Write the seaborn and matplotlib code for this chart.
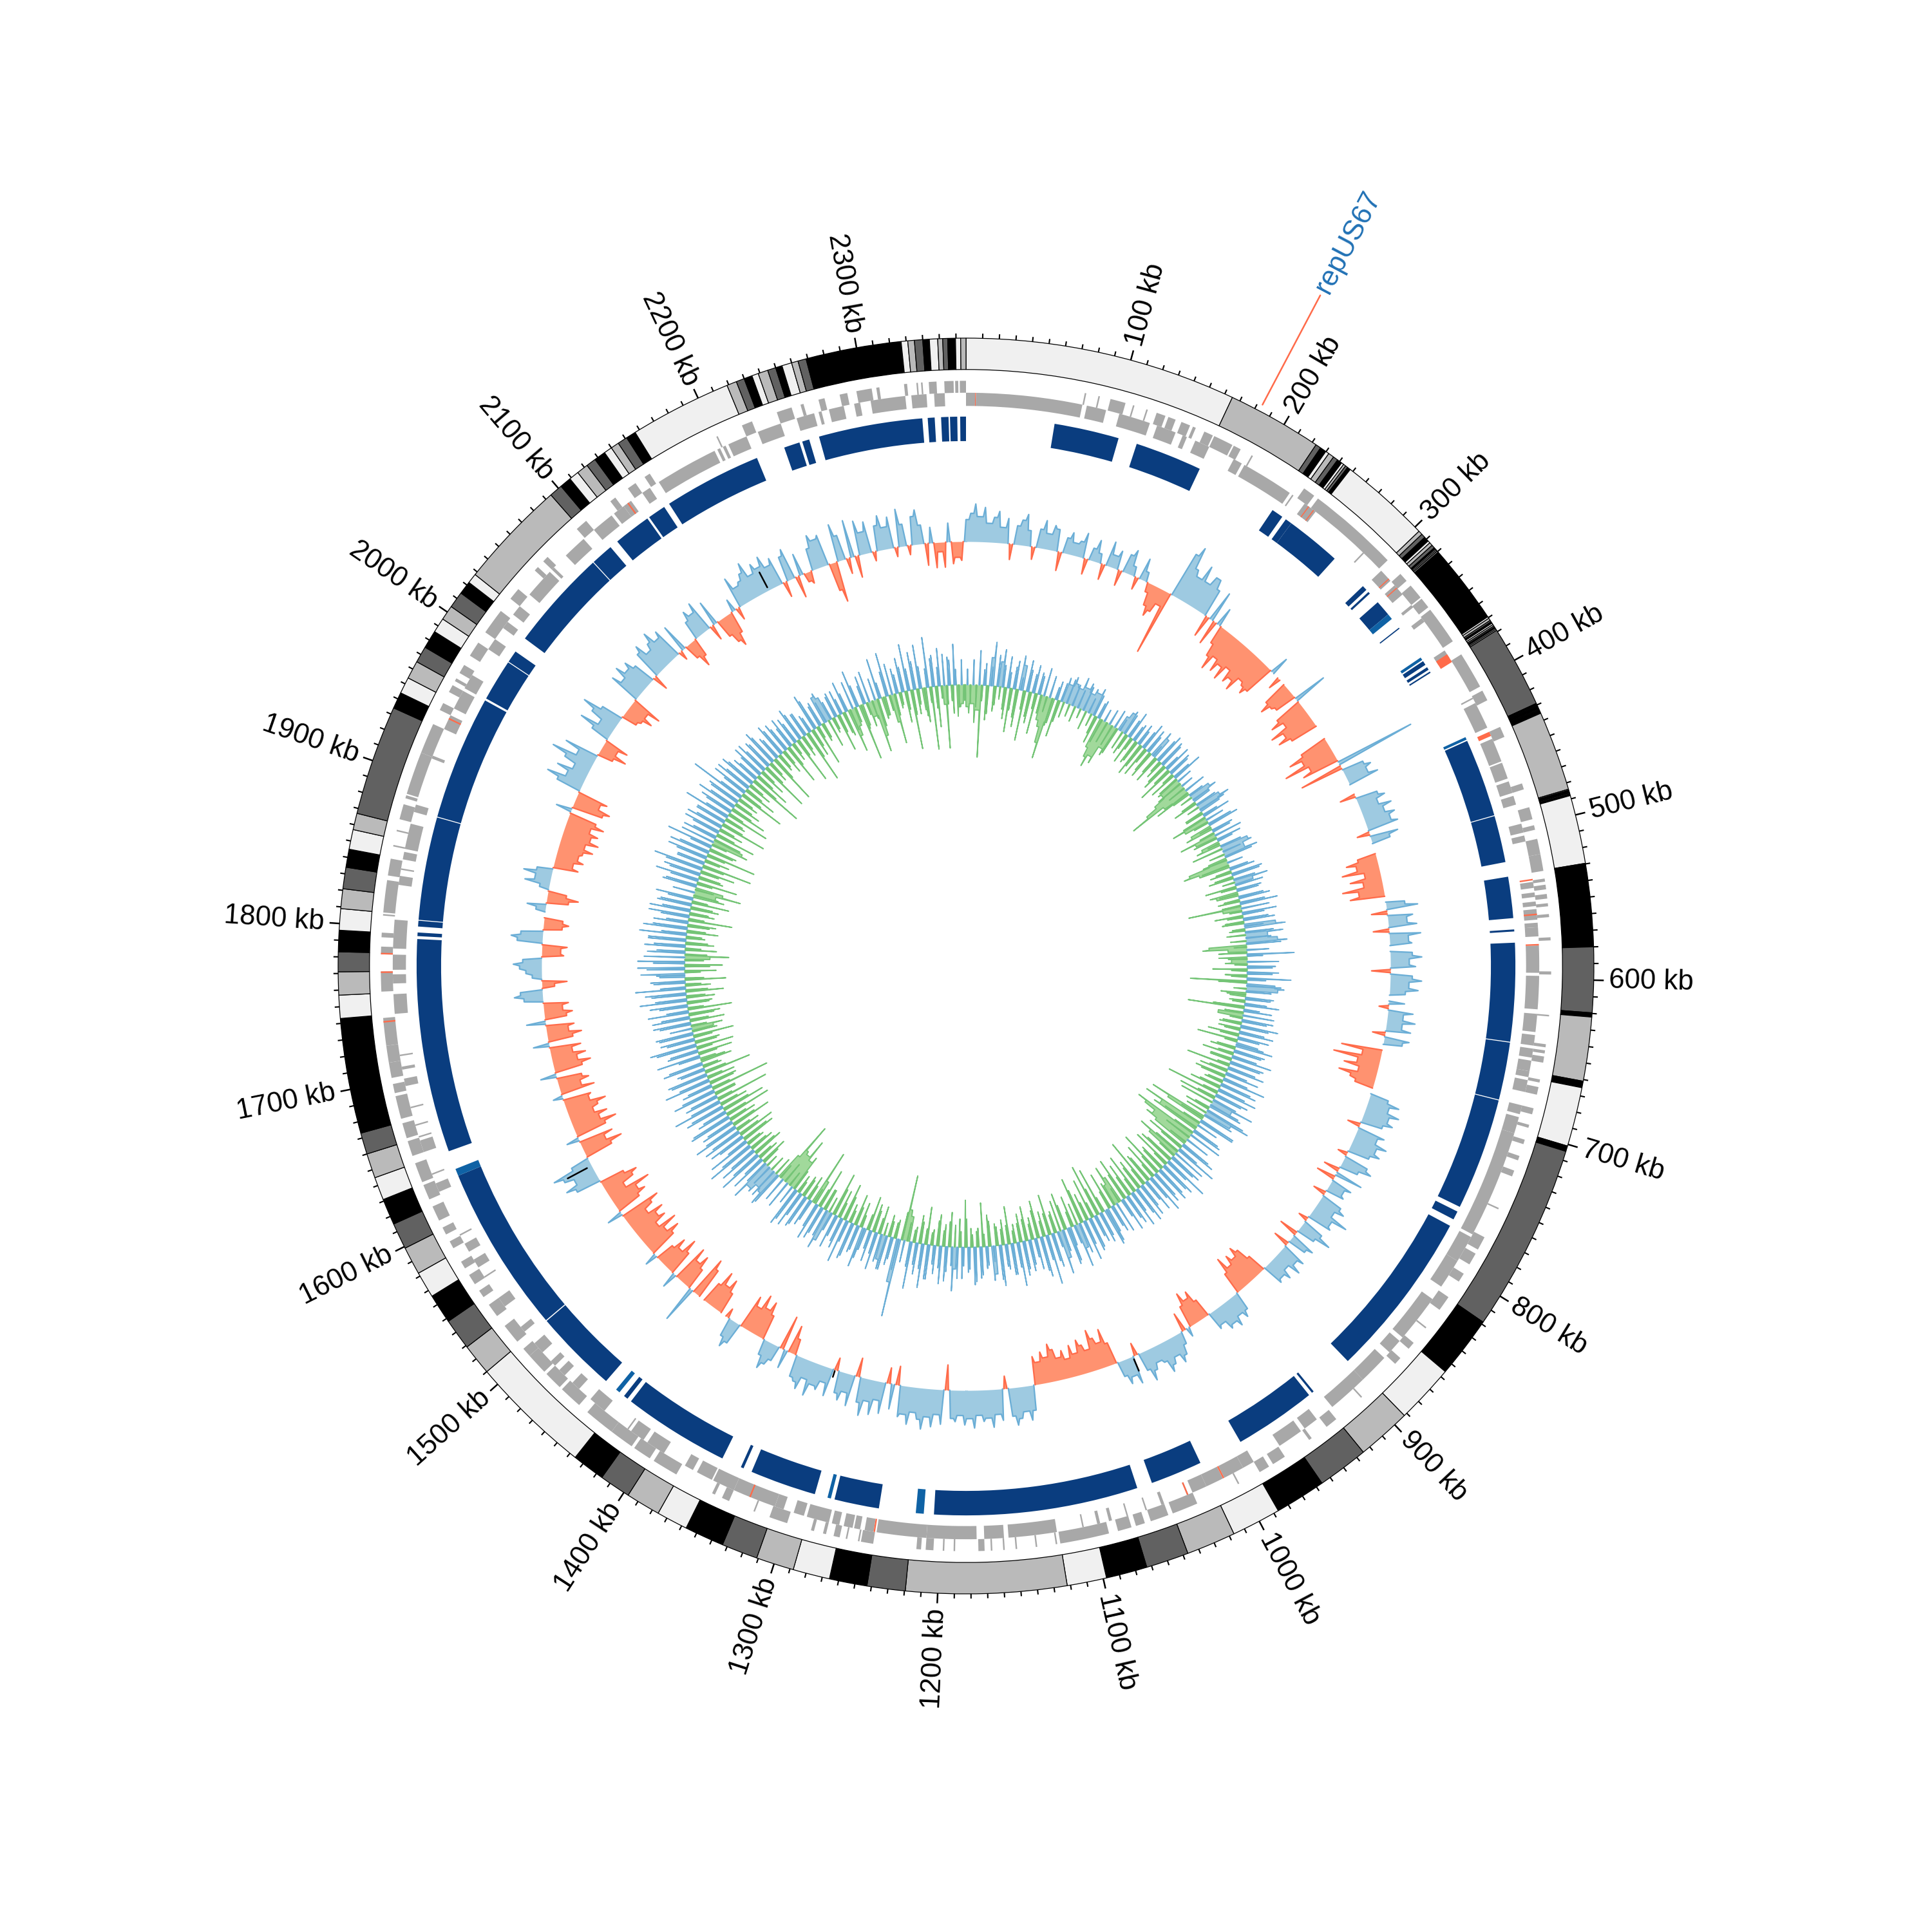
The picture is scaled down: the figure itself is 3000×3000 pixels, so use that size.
import numpy as np
import pandas as pd
import seaborn as sns
import matplotlib.pyplot as plt

genome_kb = 2366

# contig ends (kb), shades run through contig_shades in order
contig_ends = [165, 222.7, 226, 229.8, 232, 235.5, 238.5, 241.5, 243, 244.5, 246, 248, 303.5,
    306, 308.5, 311.5, 313, 315, 317, 318, 318.7, 319.5, 320.6, 369.4,
    370.5, 372, 373, 374, 375, 376, 376.8, 377.6, 378.3, 379.1, 429,
    430, 430.5, 431, 431.5, 432.5, 433, 433.5, 434, 435, 435.5, 484,
    484.7, 485.7, 486, 486.4, 487, 488, 529.6, 530, 530.4, 579.6, 579.8, 580, 619.6, 622,
    622.2, 661, 661.5, 665, 701, 701.5, 702, 704, 704.2, 704.4, 818.6, 856, 892, 925, 956, 987,
    1017, 1047, 1073, 1098, 1122, 1219.5, 1242.7, 1265.6, 1288, 1311, 1333, 1357, 1376, 1397,
    1416, 1436, 1510, 1529, 1548, 1566, 1582, 1599, 1615, 1631, 1645, 1660, 1673, 1743, 1757,
    1771, 1783, 1796, 1809, 1821, 1834, 1845, 1857, 1867, 1934, 1944, 1954, 1965, 1975, 1986,
    1995, 2004, 2014, 2022, 2028, 2094, 2102, 2109, 2115, 2122, 2128, 2135, 2140, 2145, 2151,
    2157, 2219, 2225, 2230, 2235, 2239, 2245, 2250, 2254, 2260, 2264, 2269, 2327, 2331, 2335,
    2340, 2344, 2349, 2352, 2355, 2359.7, 2362.8, 2366]
contig_shades = ["#F0F0F0", "#BABABA", "#616161", "#000000"]

# aligned blocks, (start, end) in kb
blocks_dark = [(61, 106), (119, 165.5), (222.9, 231), (234, 238.6), (238.6, 277), (304, 307.5), (309.5, 311),
    (319, 330), (341.7, 342.5), (370, 373), (375, 377), (378.5, 379.5), (432.5, 486.8), (487.4, 519.8),
    (530, 558.6), (566.4, 567.8), (575.5, 643.6), (644.2, 684), (684.6, 762.4), (766, 772), (777, 893.7),
    (925, 926.5), (929, 986), (1017, 1053), (1063.6, 1205), (1243, 1274), (1288, 1334), (1340, 1342),
    (1356, 1430), (1433, 1436), (1452, 1510), (1510.7, 1627), (1645, 1793), (1795, 1797.5), (1801.6, 1805.6),
    (1806.2, 1877.6), (1878.2, 1964.5), (1966, 1995), (1995.6, 2004), (2015, 2085), (2085.6, 2101),
    (2107, 2133), (2134.5, 2147), (2151, 2219), (2239, 2250), (2252, 2257), (2264, 2336), (2339.7, 2344.5),
    (2348.9, 2354), (2355, 2360), (2362, 2366)]
blocks_light = [(330, 334), (367, 369), (429.7, 431.6), (1212, 1217.5), (1276.6, 1279), (1440, 1443), (1627, 1632)]

gene_outer = [(77, 78), (86, 87), (94, 104), (109, 110), (118, 119), (125, 131), (133, 138), (142, 148), (150, 152),
    (158, 164), (165, 178), (179, 184), (192, 193), (232, 240), (243, 303), (315, 321), (325, 335), (336, 343),
    (345, 370), (380, 404), (407, 414), (433, 440), (472, 476), (488, 496), (500, 503), (509, 519), (519, 530),
    (535, 537), (539, 542), (545, 548), (551, 553), (558, 560), (573, 575), (595, 597), (623, 624), (642, 644),
    (646, 648), (650, 654), (665, 667), (670, 675), (684, 688), (695, 697), (705, 708), (716, 719), (726, 730),
    (752, 753), (773, 782), (785, 793), (800, 806), (818, 828), (842, 843), (855, 860), (868, 873), (903, 904),
    (925, 933), (945, 947), (966, 975), (978, 985), (1000, 1001), (1030, 1047), (1050, 1062), (1066, 1072),
    (1075, 1084), (1090, 1122), (1124, 1125), (1137, 1138), (1150, 1151), (1158, 1159), (1166, 1167), (1171, 1175),
    (1190, 1191), (1197, 1198), (1204, 1209), (1212, 1215), (1243, 1251), (1252, 1253), (1260, 1261), (1265, 1269),
    (1274, 1276), (1282, 1284), (1300, 1312), (1322, 1323), (1340, 1345), (1350, 1352), (1378, 1395), (1398, 1410),
    (1412, 1428), (1428, 1448), (1455, 1470), (1472, 1484), (1486, 1500), (1500, 1506), (1512, 1525), (1533, 1542),
    (1548, 1553), (1558, 1565), (1570, 1575), (1585, 1590), (1595, 1600), (1605, 1615), (1620, 1630), (1632, 1645),
    (1650, 1660), (1662, 1672), (1675, 1690), (1692, 1698), (1702, 1712), (1712, 1723), (1723, 1741), (1758, 1771),
    (1782, 1787), (1793, 1796), (1807, 1808), (1809, 1830), (1833, 1844), (1852, 1853), (1862, 1863), (1870, 1880),
    (1884, 1886), (1887, 1915), (1915, 1935), (1945, 1950), (1958, 1963), (1966, 1968), (1972, 1978), (1985, 1995),
    (2003, 2020), (2030, 2038), (2054, 2057), (2062, 2066), (2092, 2100), (2120, 2124), (2134, 2140), (2147, 2151),
    (2200, 2201), (2218, 2225), (2242, 2252), (2258, 2260), (2270, 2274), (2284, 2289), (2295, 2305), (2308, 2310),
    (2326, 2328), (2334, 2335), (2337, 2338), (2342, 2347), (2352, 2358), (2359, 2361), (2362, 2366)]
gene_inner = [(0, 6), (6.5, 77), (80, 93), (102, 123), (128, 141), (146, 149), (155, 165), (183, 189), (191, 226),
    (228, 229), (238, 247), (288, 289), (305, 314), (318, 326), (335, 337), (346, 349), (372, 378), (408, 409),
    (412, 430), (438, 454), (455, 466), (468, 476), (478, 484), (497, 503), (505, 509), (536, 540), (543, 546),
    (549, 552), (554, 561), (563, 566), (566, 572), (578, 596), (598, 620), (623, 635), (637, 644), (646, 652),
    (654, 661), (661, 665), (667, 675), (684, 690), (692, 703), (703, 775), (777, 795), (795, 815), (825, 857),
    (860, 870), (875, 895), (895, 922), (935, 945), (948, 965), (985, 993), (993, 1007), (1008, 1020), (1020, 1030),
    (1033, 1034), (1050, 1052), (1062, 1063), (1075, 1076), (1086, 1088), (1094, 1096), (1105, 1106), (1123, 1155),
    (1158, 1171), (1176, 1209), (1209, 1242), (1244, 1250), (1253, 1257), (1258, 1264), (1267, 1272), (1274, 1289),
    (1291, 1298), (1305, 1311), (1311, 1340), (1340, 1355), (1356, 1367), (1370, 1376), (1392, 1405), (1408, 1418),
    (1420, 1421), (1440, 1452), (1462, 1468), (1475, 1480), (1484, 1488), (1496, 1504), (1514, 1518), (1535, 1542),
    (1558, 1559), (1566, 1572), (1578, 1584), (1590, 1591), (1622, 1628), (1634, 1635), (1650, 1658), (1660, 1661),
    (1668, 1669), (1680, 1681), (1695, 1700), (1706, 1708), (1715, 1716), (1743, 1756), (1763, 1769), (1772, 1782),
    (1786, 1805), (1828, 1834), (1838, 1839), (1845, 1850), (1852, 1869), (1877, 1882), (1914, 1916), (1935, 1945),
    (1950, 1963), (1965, 1975), (1995, 2003), (2012, 2017), (2023, 2030), (2040, 2060), (2062, 2064), (2075, 2091),
    (2100, 2115), (2117, 2125), (2125, 2131), (2140, 2146), (2153, 2195), (2197, 2199), (2201, 2203), (2205, 2218),
    (2226, 2242), (2253, 2265), (2268, 2270), (2275, 2285), (2292, 2296), (2303, 2326), (2330, 2340), (2345, 2352)]
mark_inner = [(6, 6.5), (241, 241.7), (245, 245.7), (312, 312.7), (320, 320.7), (375, 381), (433, 436), (534, 535),
    (557, 558), (577, 578), (1007, 1008), (1033, 1034), (1243, 1244), (1328, 1329), (1942, 1943), (2128, 2129)]
mark_outer = [(1738, 1739), (1770, 1771), (1782, 1783)]

# GC content per 100 kb, offset from the mean in half percent of the outer radius
gc_rows = [
    [7, 9, 12, 8, 11, 6, 8, 10, 5, 8, -5, 6, 8, 10, 5, -4, 6, 9, 5, 8, 7, -6, 5, 7, 4],
    [5, 8, -5, 4, 7, 3, -5, 8, 4, 6, -5, 6, 8, 3, -4, 7, 3, -3, -7, -10, -8, -5, -21, 15, 18],
    [11, 9, 14, 9, 12, 12, 9, -7, 10, -8, 6, -6, -10, -14, -9, -13, -10, -14, -9, -13, -11, -14, -9, -10, -12],
    [-10, 6, 0, -4, 0, -8, -11, -8, -7, 11, -9, -12, -8, -14, -10, -13, -9, 0, 0, 0, -9, -14, -10, -17, -9],
    [-12, 26, -14, 7, 9, 7, 10, 0, 0, -5, 7, 9, 6, 10, 7, 10, 8, 10, -4, 9, 6, 0, 0, -6, -10],
    [-7, -12, -5, -10, -6, -13, -8, -11, 0, 6, 10, -5, 8, 6, 9, -5, 10, 6, 7, 0, 7, 10, 6, 8, -6],
    [7, 10, 6, 9, 5, 0, 5, -3, 8, 5, 9, 5, 8, -4, 8, 6, 0, -13, -6, -15, -7, -11, -6, -12, -8],
    [-6, 0, 6, 10, 7, 11, 8, 10, 7, -4, 9, 7, 11, 8, 10, 7, -3, 8, 10, 6, -5, 9, -6, 7, 5],
    [6, -4, 7, 9, 6, 12, 7, 8, -3, 7, 11, 6, -6, 8, 6, -5, 8, 6, 9, 5, 8, 6, 7, -6, -10],
    [-12, -9, -11, -8, -12, -7, 6, 8, 6, 9, 7, 8, 5, 6, -6, -10, -8, -11, -7, 3, -6, 4, 7, 9, 6],
    [8, 10, 6, 5, 7, 10, 6, -4, 9, 6, 8, 5, -7, -12, -8, -10, -13, -7, -9, -11, -7, -10, -6, -9, -7],
    [-10, -12, -8, -10, -7, -9, 8, 11, 8, 10, 12, 9, -4, 10, 8, 12, 9, 10, 8, 12, 9, 11, 8, 10, 9],
    [-8, 11, 8, 12, 9, 13, 10, 8, 12, 9, 10, -6, 8, -5, 10, 6, 11, 7, 12, 8, -6, 10, 6, 9, 7],
    [-4, 9, 5, 8, 7, 11, 6, 10, 8, 7, -5, -9, 6, -11, 5, 7, 9, 5, -8, -12, -9, -13, -8, -11, 7],
    [9, 6, -3, 0, -7, -11, -8, -12, -7, 0, -10, -13, 12, -7, -11, -8, -12, 5, -8, -12, -7, -10, -6, 4, -9],
    [-12, -8, -13, -7, -11, -9, -12, -7, -10, -13, 5, -8, -11, -9, -14, -6, -10, -12, -8, 8, 11, 7, 10, 13, 6],
    [-9, -13, -8, -11, 4, -10, -14, -9, -12, -8, -10, -13, -8, -9, 3, -11, -7, -10, -8, 5, -9, -12, -8, -11, -7],
    [-10, 5, -8, -11, -7, -9, 6, -7, -9, -6, -8, 6, 9, 7, -4, -8, 3, 5, 7, 9, 6, -7, -6, -8, 8],
    [10, 7, -6, -8, -6, 0, 3, 6, -7, -10, -6, 3, 8, 5, 9, 5, -8, -6, -9, -7, -8, -11, -8, -12, -9],
    [-11, -8, -12, -9, 5, -10, -12, -8, -10, 8, 12, 6, 10, 5, 9, 14, 6, 11, -5, -9, -5, -8, 6, 11, 5],
    [9, 13, 7, -5, -6, -9, -6, -10, 10, 7, 11, 8, 10, 7, -5, 9, 11, 7, 9, 12, 8, 10, -3, 9, -5],
    [-9, -6, 6, 9, 7, 10, -5, 8, -6, -9, -11, -7, 4, -4, 10, 6, 7, 9, 12, 7, 10, 8, 11, 7, 9],
    [-5, 8, 10, -7, 7, -3, -4, 7, 11, 9, 10, -9, -13, 12, 8, -5, 12, -7, 11, 7, 10, -3, 8, 11, 7],
    [10, -3, 12, 7, -3, 9, 11, 6, -7, 5, -8, -3, -8, 6, -7, -5, -6],
]

# GC skew per 100 kb, same units
skew_rows = [
    [-7, -9, -6, -12, -8, -23, 5, -11, 9, 14, -6, 8, 12, -7, 10, -14, 7, -9, 11, 8, -16, 7, -10, 9, -13],
    [6, -8, -10, -15, -20, -8, 6, -7, 8, 6, 9, 7, 6, 10, 7, 9, 6, 8, 7, 9, -6, 5, -10, -13, -16],
    [-12, -14, -8, -10, 5, 7, 8, -7, 6, -9, 5, -8, 7, -11, 6, -10, 8, -7, 9, 7, -9, 10, -6, 8, -9],
    [9, -12, 7, -9, 10, -8, -7, -11, -15, -21, -9, -6, 7, 9, 6, -8, 8, 11, 7, -6, 9, -12, -8, 8, -7],
    [-9, 6, -12, -7, 8, -6, -8, 9, 10, 7, 11, -6, -13, -15, -10, 8, -7, 9, -8, 11, 6, -10, 8, -9, -7],
    [10, -7, 12, -17, -6, 11, -9, 8, -6, 10, 13, -5, 12, 7, 10, 13, -12, -14, -6, 15, -9, -5, -7, 9, -11],
    [10, -7, 14, -18, 9, 12, 10, -8, -5, 8, -4, 11, -18, 9, -8, -8, 10, -6, 12, -7, 8, -10, 10, -13, 7],
    [12, -8, 9, -10, 13, -7, 10, -14, 12, -9, 11, -8, 14, -6, 12, -10, 13, -17, 9, -12, 14, 7, 11, -8, 15],
    [9, -19, -13, 12, -20, -14, -16, 10, -21, -18, -14, -16, -12, 12, -8, 14, -15, -11, 11, -10, 15, -13, 12, -9, 10],
    [-15, 9, -12, 13, -9, 11, -16, 8, -10, 12, -13, 7, -11, 10, -14, 11, -9, -13, -7, 9, -12, 8, 12, -15, 10],
    [-17, 7, -13, 11, -9, 13, -15, 8, 14, -10, 6, 12, -12, 9, 14, -7, 11, -13, 16, -8, 13, -12, 10, -7, 8],
    [-11, 9, -9, 14, -6, 10, -12, 8, -8, 13, -6, 9, 11, -10, 7, -14, 10, -5, 12, -6, 8, -15, 10, -9, 7],
    [14, -11, 8, -7, 12, -10, 9, -5, 11, -12, 14, -7, 10, -5, 15, -8, -10, -21, 25, 14, -5, 9, -7, 11, 8],
    [-9, 12, -7, 10, -11, 7, 13, -8, 9, -10, 12, -6, 14, -12, 8, -9, 11, -14, 10, 13, -7, 9, -13, 12, -8],
    [-18, 9, -8, 11, -7, 12, -6, 13, -12, -10, -17, -11, -12, -21, -9, 12, 8, 7, 10, 9, 14, -6, 12, -7, 15],
    [-10, 13, -8, 16, -6, 14, -11, 9, -12, 13, -8, 15, -13, 11, -9, 14, -15, 10, -14, 13, -9, 16, -17, 11, -7],
    [14, -19, 10, -8, 15, -9, 12, -15, 8, -6, 13, -10, -5, 14, -11, 9, -12, 15, -8, 11, -13, 12, -7, -10, 10],
    [-11, 12, -8, 13, -14, 9, -7, 15, -9, 11, -12, 16, -8, 10, -13, 8, 14, -10, 15, -12, 15, -8, -14, 12, -10],
    [13, -9, 12, -6, 15, -10, 14, -7, 11, -14, 9, -8, 13, -9, 11, -12, 8, -10, -7, -15, -9, 10, -13, 14, -7],
    [12, -11, 16, -16, 9, -8, 13, -16, 10, -9, 15, -12, -10, 11, -13, 9, -8, 12, -15, 10, -7, 15, -14, 9, -12],
    [13, -9, 10, -7, 18, -15, 8, -11, 12, -8, 12, -18, 9, -12, 8, -9, 11, -16, 10, -7, 12, -16, 8, -6, 11],
    [-8, 10, -13, 7, -6, 9, -15, 11, -7, 8, -17, 6, -9, 12, -13, 7, -6, 9, 10, 8, -5, 7, -12, 8, -7],
    [10, -14, -9, -6, 12, -18, -7, 9, -8, -5, -17, -12, 13, -7, -6, 14, -9, -16, 8, -5, 11, -10, 15, -19, 12],
    [-8, 14, -7, -11, 16, -20, 10, -13, 12, -6, -20, 9, -5, 13, -10, -7, -6],
]

# skew windows that fall between the ones above
skew_between_rows = [
    [5, -6, 8, -7, 11, -5, 7, -9, 6, -8, 10, -4, 7, -10, 5, -7, 9, -12, 4, -6, 10, -8, 6, -5, 7],
    [-6, 9, -5, 7, -9, 4, -12, 6, -5, 8, -4, 7, -5, 6, -3, 8, -6, 5, -4, 7, -9, 6, -8, 4, -7],
    [5, -7, 6, -9, 4, -6, 7, -5, 9, -4, 6, -7, 5, -8, 9, -5, 6, -9, 4, -6, 8, -4, 9, -7, 5],
    [-6, 8, -4, 6, -7, 5, -9, 4, -6, 7, -12, 5, -4, 6, -5, 7, -4, 9, -6, 5, -8, 6, -5, 10, -4],
    [7, -5, 9, -8, 5, -4, 7, -10, 6, -5, 9, -8, 5, -9, 6, -5, 10, -6, 7, -4, 9, -5, 7, -6, 8],
    [-5, 8, -6, 9, -4, 7, -5, 10, -7, 6, -4, 9, -6, 8, -5, 11, -4, 7, -9, 5, -6, 10, -4, 8, -5],
    [8, -5, 6, -9, 11, -4, 8, -6, 9, -5, 7, -10, 5, -6, 10, -4, 8, -7, 9, -5, 11, -6, 7, -4, 9],
    [-6, 10, -5, 8, -7, 11, -4, 9, -6, 7, -10, 8, -5, 10, -7, 9, -5, 11, -6, 8, -11, 10, -5, 13, -7],
    [10, -8, 12, -6, 7, -12, 9, -7, 11, -9, 8, -6, 10, -13, 7, -9, 11, -6, 9, -12, 8, -5, 10, -8, 12],
    [-7, 11, -5, 8, -10, 7, -6, 11, -8, 9, -5, 12, -7, 8, -9, 6, -5, 10, -8, 7, -6, 11, -5, 8, -9],
    [9, -5, 10, -6, 8, -11, 10, -7, 6, -5, 11, -8, 7, -10, 5, -6, 9, -7, 8, -5, 11, -9, 6, -5, 10],
    [-7, 11, -6, 8, -4, 10, -6, 7, -5, 11, -7, 5, -8, 6, -4, 9, -6, 11, -4, 7, -9, 6, -5, 10, -7],
    [6, -8, 11, -5, 7, -8, 6, -4, 11, -5, 8, -9, 7, -4, 8, -6, 7, -9, 10, -6, 7, -5, 11, -4, 9],
    [-5, 7, -9, 6, -5, 10, -4, 8, -6, 11, -4, 7, -8, 10, -5, 7, -9, 6, -5, 9, -7, 11, -6, 8, -5],
    [7, -5, 10, -6, 8, -4, 11, -7, 6, -5, 9, -7, 8, -5, 11, -6, 10, -5, 7, -4, 8, -9, 7, -5, 10],
    [-8, 9, -6, 11, -5, 7, -9, 12, -7, 10, -5, 11, -8, 9, -6, 13, -7, 8, -9, 11, -6, 10, -5, 9, -7],
    [11, -6, 8, -9, 10, -5, 13, -7, 9, -5, 11, -8, 7, -6, 10, -5, 13, -7, 9, -6, 11, -8, 7, -5, 12],
    [-6, 9, -10, 7, -5, 12, -8, 10, -6, 13, -7, 8, -5, 11, -6, 9, -5, 12, -8, 10, -6, 13, -7, 9, -5],
    [10, -7, 12, -5, 8, -6, 11, -9, 7, -5, 13, -6, 9, -7, 10, -5, 12, -8, 7, -6, 11, -5, 9, -8, 10],
    [-6, 12, -7, 9, -5, 10, -6, 13, -8, 7, -5, 11, -9, 8, -6, 12, -5, 9, -7, 10, -6, 8, -5, 11, -7],
    [9, -6, 11, -5, 8, -7, 12, -6, 9, -5, 10, -9, 7, -6, 11, -5, 8, -7, 9, -5, 10, -8, 7, -5, 9],
    [-5, 8, -7, 10, -4, 7, -6, 9, -5, 8, -9, 5, -6, 10, -4, 8, -5, 7, -9, 6, -4, 8, -6, 5, -8],
    [6, -7, 9, -5, 7, -8, 6, -4, 10, -6, 7, -9, 5, -6, 8, -5, 10, -7, 6, -4, 8, -6, 7, -8, 9],
    [-5, 7, -9, 6, -5, 9, -7, 6, -4, 10, -6, 8, -9, 5, -7, 8, -5],
]

# short black marks on the GC track: kb, low, high
gc_marks = [(1031, 0.5, 2.5), (1301, 0.2, 1.2), (1590, 0.8, 4.3), (2184, 0.5, 3.2)]

major_ticks = list(range(100, 2400, 100))
minor_ticks = [k for k in range(10, genome_kb, 10) if k % 100 != 0]
feature_kb = 183
feature_name = "repUS67"

R_BLUE = (83.6, 87.5)
R_OUT = (91.3, 93.2)
R_IN = (89.2, 91.3)
GC_BASE = 67.6
SKEW_BASE = 44.8
UNIT = 0.5


def th(kb):
    return np.deg2rad(np.asarray(kb, dtype=float) / genome_kb * 360)


def spans(ax, pairs, rng, color):
    a = np.array(pairs, dtype=float)
    w = th(a[:, 1] - a[:, 0])
    ax.bar(th(a[:, 0]) + w / 2, rng[1] - rng[0], width=w, bottom=rng[0], color=color, edgecolor="none", linewidth=0)


def track(ax, x, v, base, half, side, fill, line, lw=0.55):
    # one side of a signal: thin peak on each window, solid band where windows touch
    a = np.abs(v)
    rows = []
    run = 0
    for i in range(len(a)):
        if a[i] == 0:
            run += 1
            continue
        left = min(a[i], a[i - 1]) if i > 0 else 0
        right = min(a[i], a[i + 1]) if i < len(a) - 1 else 0
        rows += [(x[i] - half, left, run), (x[i], a[i], run), (x[i] + half, right, run)]
    df = pd.DataFrame(rows, columns=["kb", "h", "run"])
    df["t"] = th(df["kb"])
    df["r"] = base + side * df["h"] * UNIT
    for _, part in df.groupby("run"):
        ax.fill_between(part["t"], base, part["r"], color=fill, linewidth=0)
    sns.lineplot(data=df, x="t", y="r", units="run", estimator=None, sort=False,
                 color=line, linewidth=lw, legend=False, errorbar=None, ax=ax)


def flatten(rows):
    xs, vs = [], []
    for i, row in enumerate(rows):
        span = min(100, genome_kb - i * 100)
        xs += [i * 100 + j * span / len(row) for j in range(len(row))]
        vs += row
    return np.array(xs), np.array(vs, dtype=float)


sns.set_theme(style="white")
plt.rcParams["font.family"] = ["Liberation Sans", "DejaVu Sans"]

fig = plt.figure(figsize=(10, 10), dpi=300)
ax = fig.add_axes([0, 0, 1, 1], projection="polar")
ax.set_theta_zero_location("N")
ax.set_theta_direction(-1)

# contig ring
starts = [0] + contig_ends[:-1]
for i, (s, e) in enumerate(zip(starts, contig_ends)):
    w = th(e - s)
    ax.bar(th(s) + w / 2, 5, width=w, bottom=95, color=contig_shades[i % 4], edgecolor="black", linewidth=0.3)

# ticks
ax.vlines(th(minor_ticks), 100, 100.75, color="black", linewidth=0.5)
ax.vlines(th(major_ticks), 100, 101.6, color="black", linewidth=0.6)
for k in major_ticks:
    deg = k / genome_kb * 360
    right = deg < 180
    ax.text(th(k), 102.4, f"{k} kb", fontsize=10.5, color="black", va="center",
            ha="left" if right else "right", rotation=90 - deg if right else 270 - deg,
            rotation_mode="anchor")

# feature label
ax.plot([th(feature_kb)] * 2, [101.1, 120.8], color="#FF6B4A", linewidth=0.6)
ax.text(th(feature_kb), 121.5, feature_name, color="#2171B5", fontsize=10.5, va="center", ha="left",
        rotation=90 - feature_kb / genome_kb * 360, rotation_mode="anchor")

# genes
spans(ax, gene_outer, R_OUT, "#A8A8A8")
spans(ax, gene_inner, R_IN, "#A8A8A8")
spans(ax, mark_inner, R_IN, "#FF6B4A")
spans(ax, mark_outer, R_OUT, "#FF6B4A")

# aligned blocks
spans(ax, blocks_dark, R_BLUE, "#0A3D7F")
spans(ax, blocks_light, R_BLUE, "#0F62A5")

# GC content, blue goes outwards, red inwards
x, v = flatten(gc_rows)
track(ax, x, np.clip(v, 0, None), GC_BASE, 1.4, 1, "#9ECAE1", "#6BAED6")
track(ax, x, np.clip(v, None, 0), GC_BASE, 1.4, -1, "#FF9270", "#FF6B4A")
for kb, lo, hi in gc_marks:
    ax.plot([th(kb)] * 2, [GC_BASE + lo, GC_BASE + hi], color="black", linewidth=0.6)

# GC skew, blue outwards, green inwards
for rows, shift in [(skew_between_rows, 2), (skew_rows, 0)]:
    x, v = flatten(rows)
    x = x + shift
    track(ax, x, np.clip(v, 0, None), SKEW_BASE, 0.7, 1, "#9ECAE1", "#6BAED6", lw=0.45)
    track(ax, x, np.clip(v, None, 0), SKEW_BASE, 0.7, -1, "#A1D99B", "#74C476", lw=0.45)

ax.set_xlim(0, 2 * np.pi)
ax.set_ylim(0, 153.85)
ax.axis("off")
fig.savefig("out.png", dpi=300)
